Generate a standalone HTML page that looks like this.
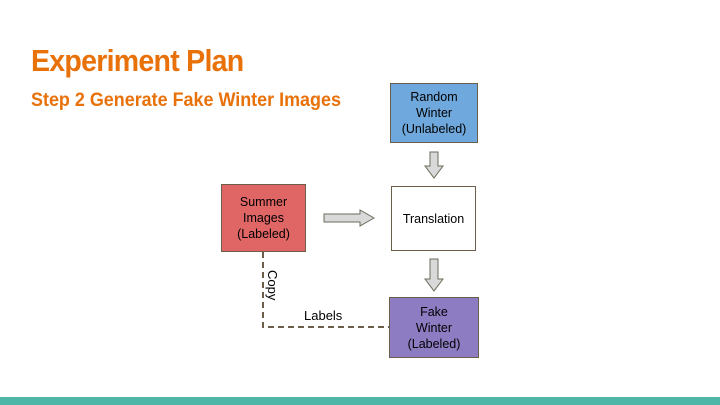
<!DOCTYPE html>
<html><head><style>
body{margin:0;width:720px;height:405px;background:#fff;position:relative;overflow:hidden;font-family:"Liberation Sans",sans-serif}
.t{position:absolute;color:#e8710a;font-family:"Liberation Sans",sans-serif;font-weight:bold;white-space:nowrap;transform-origin:0 0}
.b{position:absolute;box-sizing:border-box;border:1px solid #6b5e4b;display:flex;align-items:center;justify-content:center;text-align:center;font-size:12.5px;line-height:16px;color:#000}
</style></head><body>
<div class="t" style="left:31px;top:43px;font-size:31px;letter-spacing:-0.8px;transform:scaleX(0.92)">Experiment Plan</div>
<div class="t" style="left:31px;top:89px;font-size:19.5px;transform:scaleX(0.92)">Step 2 Generate Fake Winter Images</div>
<div class="b" style="left:390px;top:83px;width:88px;height:60px;background:#6fa8dc">Random<br>Winter<br>(Unlabeled)</div>
<div class="b" style="left:221px;top:184px;width:85px;height:68px;background:#e06666">Summer<br>Images<br>(Labeled)</div>
<div class="b" style="left:391px;top:186px;width:85px;height:65px;background:#fff">Translation</div>
<div class="b" style="left:389px;top:297px;width:90px;height:61px;background:#8e7cc3">Fake<br>Winter<br>(Labeled)</div>
<svg width="720" height="405" style="position:absolute;left:0;top:0">
<g fill="#d9d9d9" stroke="#6b6b5b" stroke-width="1">
<polygon points="324,214 360,214 360,210 374,218 360,226 360,222 324,222"/>
<polygon points="430,152 438,152 438,166 443,166 434,178 425,166 430,166"/>
<polygon points="430,259 438,259 438,279 443,279 434,291 425,279 430,279"/>
</g>
<polyline points="263,252 263,327 389,327" fill="none" stroke="#6b5e4b" stroke-width="2" stroke-dasharray="6,4"/>
<text x="304" y="320" font-size="13" font-family="Liberation Sans">Labels</text>
<text x="0" y="0" font-size="13" font-family="Liberation Sans" transform="translate(268,270) rotate(90)">Copy</text>
<rect x="0" y="397" width="720" height="8" fill="#4db6a6"/>
</svg>
</body></html>
